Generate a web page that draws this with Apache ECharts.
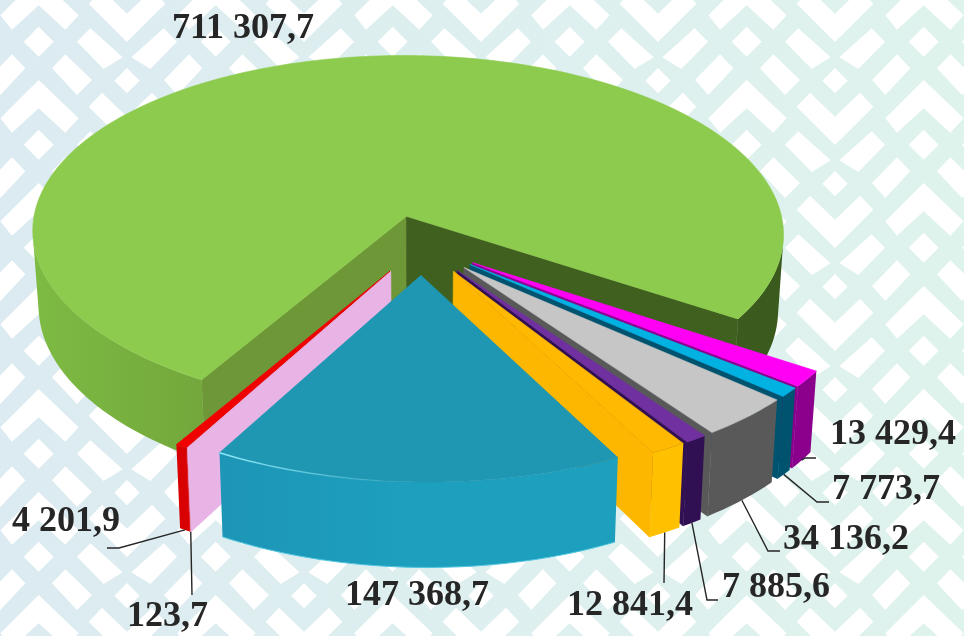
<!DOCTYPE html>
<html>
<head>
<meta charset="utf-8">
<title>chart</title>
<style>
    html, body { margin: 0; padding: 0; background: #fff; }
    #main { width: 964px; height: 636px; }
</style>
</head>
<body>
<div id="main"></div>
<script src="https://cdn.jsdelivr.net/npm/echarts@6/dist/echarts.min.js"></script>
<script>
// значения секторов, по часовой стрелке начиная с зелёного
var values = [711307.7, 13429.4, 7773.7, 34136.2, 7885.6, 12841.4, 147368.7, 123.7, 4201.9];

var topColors = ['#8dcb4e', '#ff00f5', '#00b2e2', '#c6c6c6', '#7030a0', '#ffb900', '#1f96b2', '#e8b4e6', '#f00000'];
var wallColors = [
    ['#7dbb43', '#72a53b', '#5a8030', '#40601f', '#3a5a1e'],
    ['#8a008c', '#8a008c'], ['#00536e', '#00536e'], ['#595959', '#595959'], ['#300f52', '#300f52'],
    ['#ffc000', '#ffc000'], ['#1d95b6', '#1da0be'], ['#e8b4e6', '#e8b4e6'], ['#d80000', '#d80000']
];
var radialStartColors = ['#6e9837', '#8a008c', '#00536e', '#595959', '#300f52', '#fdb700', '#1f9fc2', '#e8b4e6', '#d80000'];
var radialEndColors = ['#40601f', '#8a008c', '#00536e', '#595959', '#300f52', '#fdb700', '#1f9fc2', '#e8b4e6', '#d80000'];

// подписи: x, y текста и излом выноски
var labelLayout = [
    {x: 172, y: 29, elbow: null},
    {x: 830, y: 435, elbow: [[805, 458], [816, 458]]},
    {x: 832, y: 490, elbow: [[817, 502], [829, 502]]},
    {x: 783, y: 540, elbow: [[768, 551], [780, 551]]},
    {x: 722, y: 588, elbow: [[707, 600], [718, 600]]},
    {x: 567, y: 606, elbow: [[664, 583]]},
    {x: 345, y: 596, elbow: null},
    {x: 127, y: 617, elbow: [[192, 595]]},
    {x: 12, y: 522, elbow: [[119, 548], [107, 548]]}
];

// параметры проекции
var centerX = 421, centerY = 245;
var radiusX = 379, radiusY = 181;
var persp = 0.0945, explode = 0.165, depth = 76, taper = 0.985, shear = 20, tilt = 7;
var startAngle = 213;

var total = values.reduce(function (a, b) { return a + b; }, 0);
var slices = [];
var sum = 0;
values.forEach(function (v) {
    var a0 = echarts.number.linearMap(sum, [0, total], [startAngle, startAngle + 360]);
    sum += v;
    var a1 = echarts.number.linearMap(sum, [0, total], [startAngle, startAngle + 360]);
    var mid = (a0 + a1) / 2 * Math.PI / 180;
    slices.push({a0: a0, a1: a1, mid: mid, ox: Math.sin(mid) * explode, oy: -Math.cos(mid) * explode});
});

function project(wx, wy, bottom) {
    var s = 1 / (1 - persp * wy);
    var x = radiusX * wx * s + shear * wy;
    var y = centerY + radiusY * wy * s - tilt * wx;
    if (bottom) {
        x = x * taper;
        y = y + depth * s;
    }
    return [centerX + x, y];
}

function rimPoint(slice, deg, bottom) {
    var r = deg * Math.PI / 180;
    return project(slice.ox + Math.sin(r), slice.oy - Math.cos(r), bottom);
}

// задние секторы рисуем раньше передних
var drawOrder = values.map(function (v, i) { return i; }).sort(function (a, b) {
    return slices[a].oy - slices[b].oy;
});

function quad(p, q, r, s, color) {
    return {
        type: 'polygon',
        shape: {points: [p, q, r, s]},
        style: {fill: color, stroke: color, lineWidth: 0.6}
    };
}

function isFront(p, q, r, s) {
    var pts = [p, q, r, s], area = 0;
    for (var i = 0; i < 4; i++) {
        var a = pts[i], b = pts[(i + 1) % 4];
        area += a[0] * b[1] - b[0] * a[1];
    }
    return area < -0.01;
}

function wallGradient(i, x0, x1) {
    var stops = wallColors[i].map(function (c, k) {
        return {offset: k / (wallColors[i].length - 1), color: c};
    });
    return {type: 'linear', x: x0, y: 0, x2: x1, y2: 0, global: true, colorStops: stops};
}

function renderSlice(params, api) {
    var i = api.value(0);
    var sl = slices[i];
    var n = Math.max(2, Math.ceil((sl.a1 - sl.a0) / 1.5));
    var apexTop = project(sl.ox, sl.oy, false);
    var apexBot = project(sl.ox, sl.oy, true);
    var arcTop = [], arcBot = [], children = [];
    for (var k = 0; k <= n; k++) {
        var deg = sl.a0 + (sl.a1 - sl.a0) * k / n;
        arcTop.push(rimPoint(sl, deg, false));
        arcBot.push(rimPoint(sl, deg, true));
    }
    if (isFront(apexTop, arcTop[0], arcBot[0], apexBot)) {
        children.push(quad(apexTop, arcTop[0], arcBot[0], apexBot, radialStartColors[i]));
    }
    if (isFront(arcTop[n], apexTop, apexBot, arcBot[n])) {
        children.push(quad(arcTop[n], apexTop, apexBot, arcBot[n], radialEndColors[i]));
    }
    // видимая часть внешней стенки одним контуром
    var run = [];
    var flush = function () {
        if (run.length) {
            var pts = run.map(function (j) { return arcTop[j]; })
                .concat(run.slice().reverse().map(function (j) { return arcBot[j]; }));
            var xs = (i === 0) ? [33, 783] : (i === 6 ? [222, 420] : [0, 964]);
            var grad = wallGradient(i, xs[0], xs[1]);
            children.push({type: 'polygon', shape: {points: pts}, style: {fill: grad}});
        }
        run = [];
    };
    for (k = 0; k < n; k++) {
        if (isFront(arcTop[k], arcTop[k + 1], arcBot[k + 1], arcBot[k])) {
            if (!run.length) run.push(k);
            run.push(k + 1);
        } else {
            flush();
        }
    }
    flush();
    children.push({
        type: 'polygon',
        shape: {points: [apexTop].concat(arcTop)},
        style: {fill: topColors[i], stroke: topColors[i], lineWidth: 0.6}
    });
    // светлая кромка у голубого сектора
    if (i === 6) {
        children.push({
            type: 'polyline',
            shape: {points: arcTop},
            style: {
                fill: null,
                lineWidth: 1.5,
                stroke: {
                    type: 'linear', x: 222, y: 0, x2: 400, y2: 0, global: true,
                    colorStops: [{offset: 0, color: '#8be8f8'}, {offset: 1, color: 'rgba(139,232,248,0)'}]
                }
            }
        });
        children.push({type: 'polyline', shape: {points: arcBot}, style: {fill: null, stroke: '#4fc5e0', lineWidth: 1}});
    }
    return {type: 'group', children: children};
}

function formatValue(v) {
    var parts = v.toFixed(1).split('.');
    return parts[0].replace(/\B(?=(\d{3})+$)/g, ' ') + ',' + parts[1];
}

function renderLabel(params, api) {
    var i = params.dataIndex;
    var lay = labelLayout[i];
    var sl = slices[i];
    var children = [];
    if (lay.elbow) {
        var deg = (sl.a0 + sl.a1) / 2;
        children.push({
            type: 'polyline',
            shape: {points: [rimPoint(sl, deg, true)].concat(lay.elbow)},
            style: {fill: null, stroke: '#262626', lineWidth: 1.4}
        });
    }
    children.push({
        type: 'text',
        style: {
            text: formatValue(api.value(0)),
            x: lay.x,
            y: lay.y,
            font: 'bold 36px "Liberation Serif"',
            fill: '#262626',
            textAlign: 'left',
            textVerticalAlign: 'middle'
        }
    });
    return {type: 'group', children: children};
}

// фон с орнаментом
var ornament = [
    [[205, 355], [320, 240], [440, 355], [400, 398], [320, 325], [240, 398]],
    [[470, 320], [510, 278], [585, 350], [660, 278], [700, 320], [585, 435]],
    [[275, 125], [320, 80], [365, 125], [320, 170]],
    [[547, 242], [585, 204], [623, 242], [585, 280]],
    [[435, 125], [475, 85], [572, 172], [515, 207]],
    [[735, 125], [695, 85], [598, 172], [655, 207]],
    [[165, 240], [240, 163], [280, 205], [205, 285]],
    [[480, 240], [400, 163], [360, 205], [435, 285]]
];

function makeBackground() {
    var cv = document.createElement('canvas');
    cv.width = 964;
    cv.height = 636;
    var ctx = cv.getContext('2d');
    var grad = ctx.createLinearGradient(0, 0, 964, 0);
    grad.addColorStop(0, '#dcebf1');
    grad.addColorStop(1, '#dff3ed');
    ctx.fillStyle = grad;
    ctx.fillRect(0, 0, 964, 636);
    ctx.fillStyle = '#ffffff';
    ctx.filter = 'blur(0.6px)';
    for (var col = -5; col <= 2; col++) {
        for (var row = -1; row <= 7; row++) {
            ornament.forEach(function (poly) {
                ctx.beginPath();
                poly.forEach(function (p, idx) {
                    var x = 640 + p[0] / 3 + col * 177;
                    var y = p[1] / 3 + row * 103;
                    if (idx === 0) ctx.moveTo(x, y); else ctx.lineTo(x, y);
                });
                ctx.closePath();
                ctx.fill();
            });
        }
    }
    return cv;
}

var myChart = echarts.init(document.getElementById('main'), null, {renderer: 'canvas'});
myChart.setOption({
    animation: false,
    backgroundColor: {image: makeBackground(), repeat: 'no-repeat'},
    series: [
        {
            type: 'custom',
            coordinateSystem: 'none',
            silent: true,
            renderItem: renderSlice,
            data: drawOrder.map(function (i) { return [i, values[i]]; })
        },
        {
            type: 'custom',
            coordinateSystem: 'none',
            silent: true,
            renderItem: renderLabel,
            data: values.map(function (v) { return [v]; })
        }
    ]
});
</script>
</body>
</html>
